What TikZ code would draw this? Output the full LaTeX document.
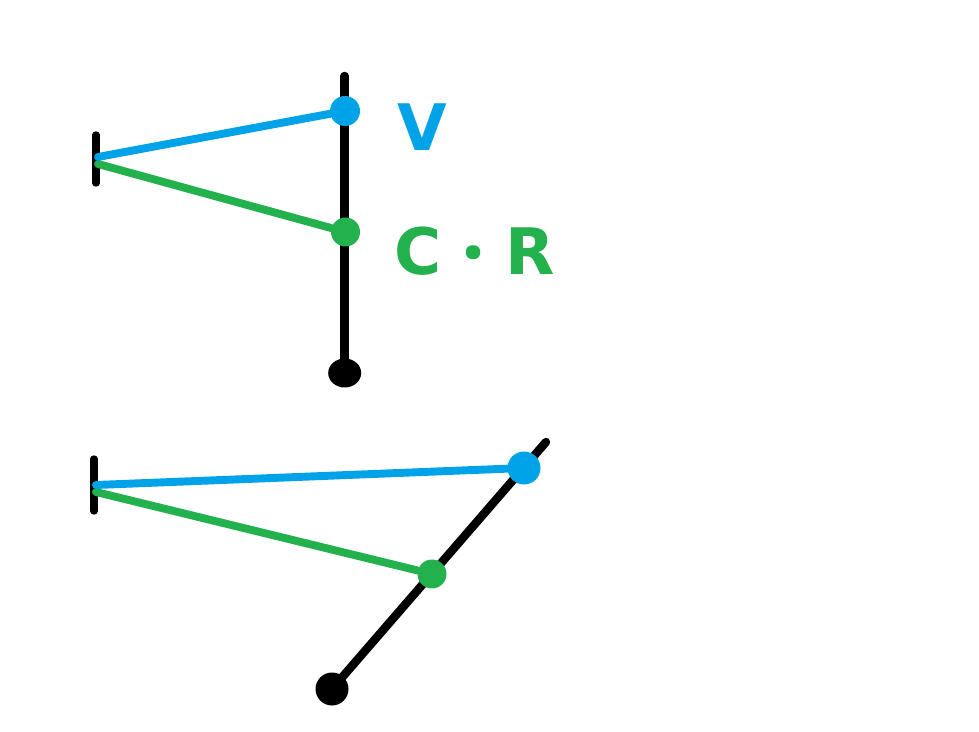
\documentclass[tikz,border=0pt]{standalone}
\usepackage{fontspec}
\setmainfont{DejaVu Sans}
\newfontfamily\dotfont{Open Sans}
\usetikzlibrary{shapes.geometric, backgrounds}
\definecolor{paintblue}{HTML}{00A2E8}
\definecolor{paintgreen}{HTML}{22B14C}
\tikzset{
  dot/.style={circle, inner sep=0pt, fill=#1},
  rod/.style={line width=4.8pt, line cap=round, black},
  tick/.style={line width=4.2pt, line cap=round, black},
  ray/.style={line width=4.5pt, line cap=round, #1},
  lbl/.style={anchor=base west, inner sep=0pt, font=\bfseries\fontsize{36.5}{37}\selectfont, text=#1}
}
\begin{document}
\begin{tikzpicture}[x=0.02cm, y=-0.02cm]
\useasboundingbox (0,0) rectangle (979,732);
% Upper position
\node[dot=paintblue, minimum size=0.6cm] (vtop) at (345,111) {};
\node[dot=paintgreen, minimum size=0.58cm] (crtop) at (345.5,232) {};
\node[ellipse, inner sep=0pt, fill=black, minimum width=0.66cm, minimum height=0.58cm] (bobtop) at (344.7,373) {};
\coordinate (rodtop) at (344.7,76);
\coordinate (ticktopa) at (96,135);
\coordinate (ticktopb) at (96,183);
\coordinate (eyetopv) at (98,157);
\coordinate (eyetopc) at (98,164);
\begin{scope}[on background layer]
\draw[rod] (rodtop) -- (bobtop.center);
\draw[tick] (ticktopa) -- (ticktopb);
\draw[ray=paintgreen] (eyetopc) -- (crtop);
\draw[ray=paintblue] (eyetopv) -- (vtop);
\end{scope}
\node[lbl=paintblue] (vlabel) at (397,151) {V};
\node[lbl=paintgreen] (crlabel) at (394,275) {C\hspace{-1pt} \raisebox{-4pt}{\dotfont\fontsize{48}{48}\selectfont ·} \hspace{-1.5pt}R};

% Lower position
\node[dot=paintblue, minimum size=0.66cm] (vlow) at (524,468) {};
\node[dot=paintgreen, minimum size=0.58cm] (crlow) at (432,574) {};
\node[dot=black, minimum size=0.66cm] (boblow) at (332,689) {};
\coordinate (rodlow) at (546,442);
\coordinate (ticklowa) at (94,459);
\coordinate (ticklowb) at (94,511);
\coordinate (eyelowv) at (96,485);
\coordinate (eyelowc) at (96,492);
\begin{scope}[on background layer]
\draw[rod] (rodlow) -- (boblow.center);
\draw[tick] (ticklowa) -- (ticklowb);
\draw[ray=paintgreen] (eyelowc) -- (crlow);
\draw[ray=paintblue] (eyelowv) -- (vlow);
\end{scope}
\end{tikzpicture}
\end{document}
